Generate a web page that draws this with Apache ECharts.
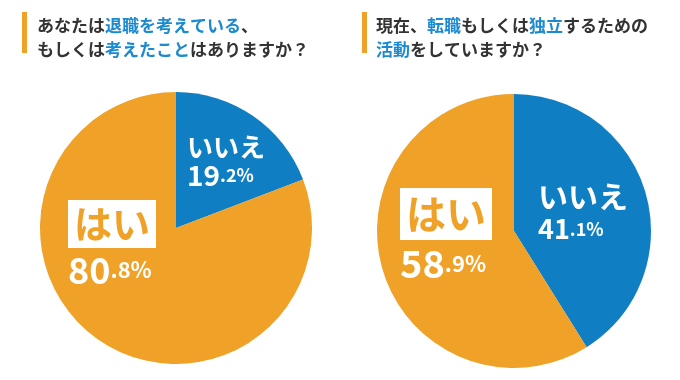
<!DOCTYPE html>
<html><head><meta charset="utf-8">
<script src="https://cdn.jsdelivr.net/npm/echarts@6/dist/echarts.min.js"></script>
<style>html,body{margin:0;padding:0;background:#fff}#c{width:680px;height:380px}</style>
</head><body><div id="c"></div>
<script>
const categories = ['いいえ', 'はい'];
const leftValues = [19.2, 80.8];
const rightValues = [41.1, 58.9];

const BLUE = '#0f7ec2', ORANGE = '#f0a127', TBLUE = '#1b8ad0', DARK = '#333';
const FONT = '"Noto Sans CJK JP", "Noto Sans", sans-serif';

const chart = echarts.init(document.getElementById('c'));

function fmt(p) {
  const s = p.value.toFixed(1).split('.');
  if (p.dataIndex === 0) return '{n|' + p.name + '}\n{nbig|' + s[0] + '}{nsmall|.' + s[1] + '%}';
  return '{box|' + p.name + '}\n{big|' + s[0] + '}{small|.' + s[1] + '%}';
}
function rich(cfg) {
  const t = (size, lh, color) => ({color: color || '#fff', fontSize: size, fontWeight: 'bold', fontFamily: FONT, lineHeight: lh});
  return {
    n: t(cfg.n, cfg.nl),
    nbig: t(cfg.nbig, cfg.nll),
    nsmall: t(cfg.nsmall, cfg.nll),
    box: Object.assign(t(cfg.box, cfg.bl, ORANGE), {backgroundColor: '#fff', height: cfg.bl, padding: [0, 6, 0, 6]}),
    big: t(cfg.big, cfg.ll),
    small: t(cfg.small, cfg.ll)
  };
}
const labelPos = [
  [[187, 133], [68, 200]],
  [[538, 180], [400, 188]]
];
function pie(values, center, r, si, cfg) {
  return {
    type: 'pie', center: center, radius: r, startAngle: 90, clockwise: true,
    silent: true, animation: false,
    data: categories.map((c, i) => ({name: c, value: values[i],
      itemStyle: {color: i === 0 ? BLUE : ORANGE}})),
    label: {show: true, position: 'inside', formatter: fmt, rich: rich(cfg), align: 'left'},
    labelLine: {show: false},
    labelLayout: function (p) {
      const pos = labelPos[si][p.dataIndex];
      return {x: pos[0], y: pos[1], align: 'left', verticalAlign: 'top'};
    }
  };
}
function title(text, left) {
  return {
    text: text, left: left, top: 9,
    textStyle: {fontSize: 17, fontWeight: 'bold', color: DARK, fontFamily: FONT, lineHeight: 24,
      rich: {b: {fontSize: 17, fontWeight: 'bold', color: TBLUE, fontFamily: FONT, lineHeight: 24},
             d: {fontSize: 17, fontWeight: 'bold', color: DARK, fontFamily: FONT, lineHeight: 24}}}
  };
}
chart.setOption({
  animation: false,
  title: [
    title('{d|あなたは}{b|退職を考えている}{d|、}\n{d|もしくは}{b|考えたこと}{d|はありますか？}', 32),
    title('{d|現在、}{b|転職}{d|もしくは}{b|独立}{d|するための}\n{b|活動}{d|をしていますか？}', 371)
  ],
  graphic: [
    {type: 'rect', shape: {x: 22, y: 12, width: 5, height: 41}, style: {fill: ORANGE}},
    {type: 'rect', shape: {x: 362, y: 12, width: 5, height: 41}, style: {fill: ORANGE}}
  ],
  series: [
    pie(leftValues, [176, 228], 136, 0, {n: 26, nl: 28, nbig: 28, nsmall: 18, nll: 28, box: 38, bl: 48, big: 36, small: 22, ll: 44}),
    pie(rightValues, [514, 231], 137, 1, {n: 30, nl: 34, nbig: 27, nsmall: 18, nll: 30, box: 40, bl: 52, big: 38, small: 22, ll: 48})
  ]
});
</script></body></html>
